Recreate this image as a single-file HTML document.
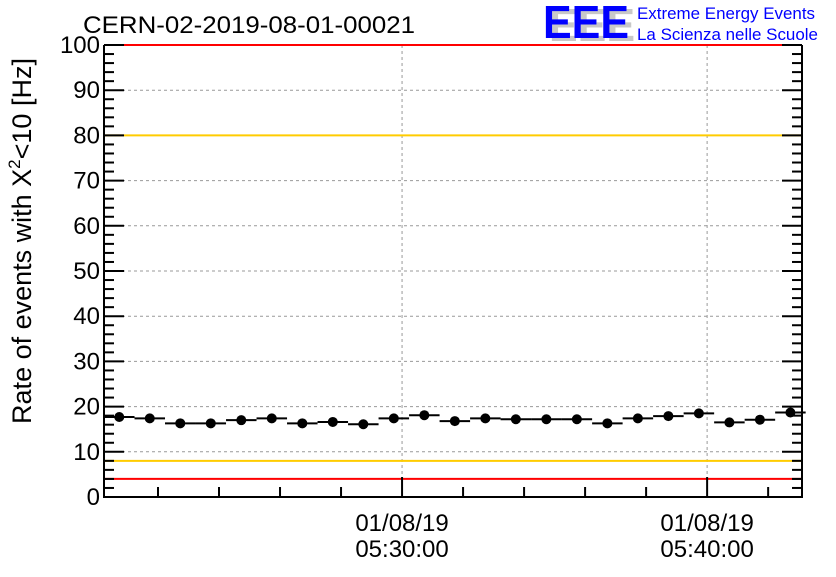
<!DOCTYPE html>
<html><head><meta charset="utf-8"><style>
body{margin:0;background:#fff;}
svg text{font-family:"Liberation Sans",sans-serif;}
</style></head><body>
<svg id="chart" width="836" height="572" xmlns="http://www.w3.org/2000/svg">
<rect width="836" height="572" fill="#fff"/>
<text x="83" y="33" font-size="24" textLength="332" lengthAdjust="spacingAndGlyphs">CERN-02-2019-08-01-00021</text>
<g>
<text x="549" y="41" font-size="46" font-weight="bold" fill="#c8c8c8" textLength="86" lengthAdjust="spacingAndGlyphs">EEE</text>
<text x="543" y="38" font-size="46" font-weight="bold" fill="#0000ff" textLength="86" lengthAdjust="spacingAndGlyphs">EEE</text>
<text x="637" y="19" font-size="17" fill="#0000ff" textLength="178" lengthAdjust="spacingAndGlyphs">Extreme Energy Events</text>
<text x="637" y="40" font-size="17" fill="#0000ff" textLength="181" lengthAdjust="spacingAndGlyphs">La Scienza nelle Scuole</text>
</g>
<g id="grid"></g>
<g id="lines"></g>
<g id="axes"></g>
<g id="marks"></g>
<text transform="translate(31,241) rotate(-90)" text-anchor="middle" font-size="27">Rate of events with X<tspan dy="-11" font-size="17">2</tspan><tspan dy="11">&lt;10 [Hz]</tspan></text>
</svg>
<script>
const values=[17.7,17.4,16.3,16.3,17.0,17.4,16.3,16.6,16.1,17.4,18.1,16.8,17.4,17.2,17.2,17.2,16.3,17.4,17.9,18.5,16.5,17.1,18.7];
const binStartMin=-9.77;
const binWidthMin=1;
const yTicks=[0,10,20,30,40,50,60,70,80,90,100];
const xTickMinutes=[0,10];
const xTickLabels=[["01/08/19","05:30:00"],["01/08/19","05:40:00"]];
const refLines=[{v:100,c:"#ff0000"},{v:4,c:"#ff0000"},{v:80,c:"#ffcc00"},{v:8,c:"#ffcc00"}];
const L=104,R=802,T=45,B=497,xMin=-9.77,xMax=13.11;
const X=m=>L+(m-xMin)/(xMax-xMin)*(R-L);
const Y=v=>B-v/100*(B-T);
const NS="http://www.w3.org/2000/svg";
function mk(p,tag,a){const e=document.createElementNS(NS,tag);for(const k in a)e.setAttribute(k,a[k]);document.getElementById(p).appendChild(e);return e;}
yTicks.forEach(v=>{if(v>0&&v<100){const g=mk("grid","line",{x1:L,x2:R,y1:Y(v),y2:Y(v),stroke:"#999","stroke-dasharray":"3,3","stroke-width":1});

}});
xTickMinutes.forEach(m=>{const g=mk("grid","line",{x1:X(m),x2:X(m),y1:T,y2:B,stroke:"#999","stroke-dasharray":"3,3","stroke-width":1});

});
refLines.forEach(r=>{const l=mk("lines","line",{x1:L,x2:R,y1:Y(r.v),y2:Y(r.v),stroke:r.c,"stroke-width":2});

});
const ax=mk("axes","path",{d:`M${L},${T}V${B}H${R}V${T}`,fill:"none",stroke:"#000","stroke-width":2});


for(let v=0;v<=100;v+=2){const len=v%10===0?20:10;
const t1=mk("axes","line",{x1:L,x2:L+len,y1:Y(v),y2:Y(v),stroke:"#000","stroke-width":2});


const t2=mk("axes","line",{x1:R-len,x2:R,y1:Y(v),y2:Y(v),stroke:"#000","stroke-width":2});

}
yTicks.forEach(v=>{const t=mk("axes","text",{x:L-4,y:Y(v)+8,"text-anchor":"end","font-size":24});t.textContent=v;

});
for(let m=-8;m<=12;m+=2){const len=m%10===0?20:10;
const t=mk("axes","line",{x1:X(m),x2:X(m),y1:B-len,y2:B,stroke:"#000","stroke-width":2});

}
xTickMinutes.forEach((m,i)=>{xTickLabels[i].forEach((s,j)=>{const t=mk("axes","text",{x:X(m),y:531+j*26,"text-anchor":"middle","font-size":24});t.textContent=s;

});});
values.forEach((v,i)=>{const s=binStartMin+i*binWidthMin;
const h=mk("marks","line",{x1:X(s),x2:X(s+binWidthMin),y1:Y(v),y2:Y(v),stroke:"#000","stroke-width":2});


const c=mk("marks","circle",{cx:X(s+binWidthMin/2),cy:Y(v),r:5,fill:"#000"});

});
</script>
</body></html>
